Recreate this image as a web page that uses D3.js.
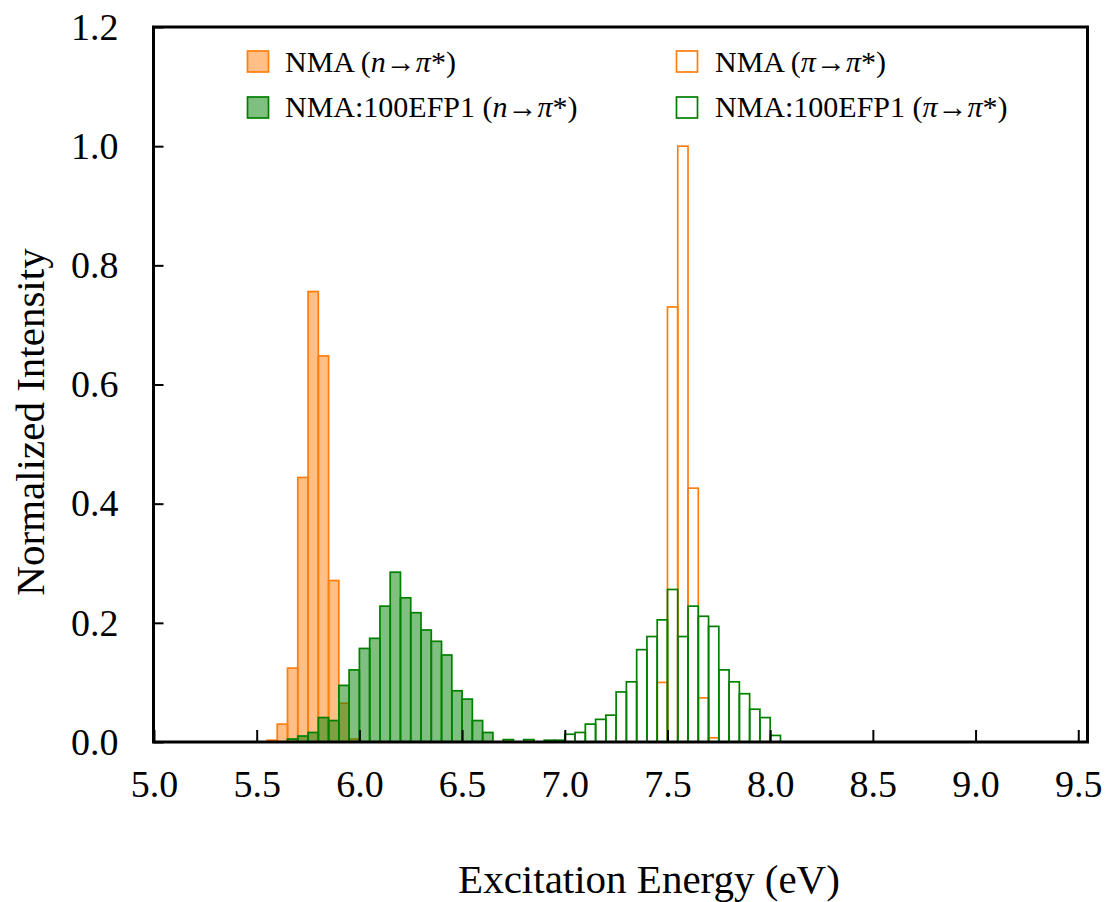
<!DOCTYPE html>
<html>
<head>
<meta charset="utf-8">
<script src="https://cdn.jsdelivr.net/npm/d3@7"></script>
<style>
  html, body { margin: 0; padding: 0; background: #fff; }
  svg text { font-family: "Liberation Serif", "Times New Roman", serif; fill: #000; }
</style>
</head>
<body>
<svg id="chart" width="1112" height="902"></svg>
<script>
// ---- Data (bin left edges in eV, bin width 0.05 eV) ----
const binWidth = 0.05;

const nmaNEdges   = [5.55, 5.60, 5.65, 5.70, 5.75, 5.80, 5.85, 5.90, 5.95];
const nmaNValues  = [0.003, 0.030, 0.124, 0.444, 0.756, 0.648, 0.271, 0.065, 0.005];

const nmaPiEdges  = [7.45, 7.50, 7.55, 7.60, 7.65, 7.70];
const nmaPiValues = [0.100, 0.730, 1.000, 0.426, 0.074, 0.007];

const efpNEdges   = [5.65, 5.70, 5.75, 5.80, 5.85, 5.90, 5.95, 6.00, 6.05, 6.10, 6.15, 6.20,
                     6.25, 6.30, 6.35, 6.40, 6.45, 6.50, 6.55, 6.60, 6.70, 6.80];
const efpNValues  = [0.005, 0.010, 0.016, 0.041, 0.036, 0.095, 0.121, 0.157, 0.174, 0.228, 0.285, 0.242,
                     0.217, 0.188, 0.169, 0.146, 0.086, 0.072, 0.036, 0.016, 0.004, 0.004];

const efpPiEdges  = [6.90, 6.95, 7.00, 7.05, 7.10, 7.15, 7.20, 7.25, 7.30, 7.35, 7.40, 7.45, 7.50,
                     7.55, 7.60, 7.65, 7.70, 7.75, 7.80, 7.85, 7.90, 7.95, 8.00];
const efpPiValues = [0.003, 0.003, 0.013, 0.016, 0.030, 0.038, 0.045, 0.084, 0.101, 0.155, 0.177, 0.205, 0.256,
                     0.177, 0.228, 0.211, 0.194, 0.121, 0.101, 0.081, 0.055, 0.041, 0.011];

const xTicks = [5.0, 5.5, 6.0, 6.5, 7.0, 7.5, 8.0, 8.5, 9.0, 9.5];
const yTicks = [0.0, 0.2, 0.4, 0.6, 0.8, 1.0, 1.2];

const orange = "#ff7f0e";
const green = "#008000";

const seriesList = [
  { name: "nmaN",  edges: nmaNEdges,  values: nmaNValues,  color: orange, filled: true },
  { name: "efpN",  edges: efpNEdges,  values: efpNValues,  color: green,  filled: true },
  { name: "nmaPi", edges: nmaPiEdges, values: nmaPiValues, color: orange, filled: false },
  { name: "efpPi", edges: efpPiEdges, values: efpPiValues, color: green,  filled: false }
];

const legendItems = [
  { label: [["NMA (", false], ["n", true], ["\u2192", false], ["\u03C0", true], ["*)", false]], color: orange, filled: true },
  { label: [["NMA (", false], ["\u03C0", true], ["\u2192", false], ["\u03C0", true], ["*)", false]], color: orange, filled: false },
  { label: [["NMA:100EFP1 (", false], ["n", true], ["\u2192", false], ["\u03C0", true], ["*)", false]], color: green, filled: true },
  { label: [["NMA:100EFP1 (", false], ["\u03C0", true], ["\u2192", false], ["\u03C0", true], ["*)", false]], color: green, filled: false }
];

// ---- Layout ----
const svg = d3.select("#chart");
const pLeft = 153.5, pRight = 1087.5, pTop = 27, pBottom = 742;

const x = d3.scaleLinear().domain([5.0, 9.545]).range([154, 1087.5]);
const y = d3.scaleLinear().domain([0, 1.2]).range([pBottom, pTop]);

// ---- Bars ----
seriesList.forEach(s => {
  const data = s.edges.map((e, i) => ({ x0: e, x1: e + binWidth, v: s.values[i] }));
  svg.append("g").attr("class", s.name)
    .selectAll("rect").data(data).join("rect")
    .attr("x", d => x(d.x0))
    .attr("y", d => y(d.v))
    .attr("width", d => x(d.x1) - x(d.x0))
    .attr("height", d => y(0) - y(d.v))
    .attr("fill", s.filled ? s.color : "none")
    .attr("fill-opacity", s.filled ? 0.5 : 0)
    .attr("stroke", s.color)
    .attr("stroke-width", 1.7);
});

// ---- Axes ----
const xAxis = d3.axisBottom(x).tickValues(xTicks).tickFormat(d3.format(".1f"))
  .tickSizeInner(-12).tickSizeOuter(0).tickPadding(28);
const gx = svg.append("g").attr("transform", `translate(0,${pBottom})`).call(xAxis);
gx.select(".domain").remove();
gx.selectAll(".tick line").attr("stroke", "#000").attr("stroke-width", 2);
gx.selectAll(".tick text").attr("font-size", 38).attr("font-family", "'Liberation Serif','Times New Roman',serif");

const yAxis = d3.axisLeft(y).tickValues(yTicks).tickFormat(d3.format(".1f"))
  .tickSizeInner(-10).tickSizeOuter(0).tickPadding(35);
const gy = svg.append("g").attr("transform", `translate(${pLeft},0)`).call(yAxis);
gy.select(".domain").remove();
gy.selectAll(".tick line").attr("stroke", "#000").attr("stroke-width", 2);
gy.selectAll(".tick text").attr("font-size", 38).attr("font-family", "'Liberation Serif','Times New Roman',serif");

// ---- Frame ----
svg.append("rect")
  .attr("x", pLeft).attr("y", pTop)
  .attr("width", pRight - pLeft).attr("height", pBottom - pTop)
  .attr("fill", "none").attr("stroke", "#000").attr("stroke-width", 3);

// ---- Axis titles ----
svg.append("text")
  .attr("x", 649).attr("y", 893)
  .attr("text-anchor", "middle")
  .attr("font-size", 41)
  .text("Excitation Energy (eV)");

svg.append("text")
  .attr("transform", "translate(44,422) rotate(-90)")
  .attr("text-anchor", "middle")
  .attr("font-size", 41)
  .text("Normalized Intensity");

// ---- Legend ----
const legendPos = [
  { sx: 247.5, sy: 51, tx: 285, ty: 72 },
  { sx: 676.5, sy: 51, tx: 715, ty: 72 },
  { sx: 247.5, sy: 97, tx: 285, ty: 117 },
  { sx: 676.5, sy: 97, tx: 715, ty: 117 }
];
const lg = svg.append("g").attr("class", "legend");
legendItems.forEach((item, i) => {
  const p = legendPos[i];
  lg.append("rect")
    .attr("x", p.sx).attr("y", p.sy)
    .attr("width", 21).attr("height", 21)
    .attr("fill", item.filled ? item.color : "none")
    .attr("fill-opacity", item.filled ? 0.5 : 0)
    .attr("stroke", item.color).attr("stroke-width", 1.7);
  const t = lg.append("text").attr("x", p.tx).attr("y", p.ty).attr("font-size", 30);
  item.label.forEach(([str, it]) => {
    t.append("tspan").attr("font-style", it ? "italic" : "normal").text(str);
  });
});
</script>
</body>
</html>
